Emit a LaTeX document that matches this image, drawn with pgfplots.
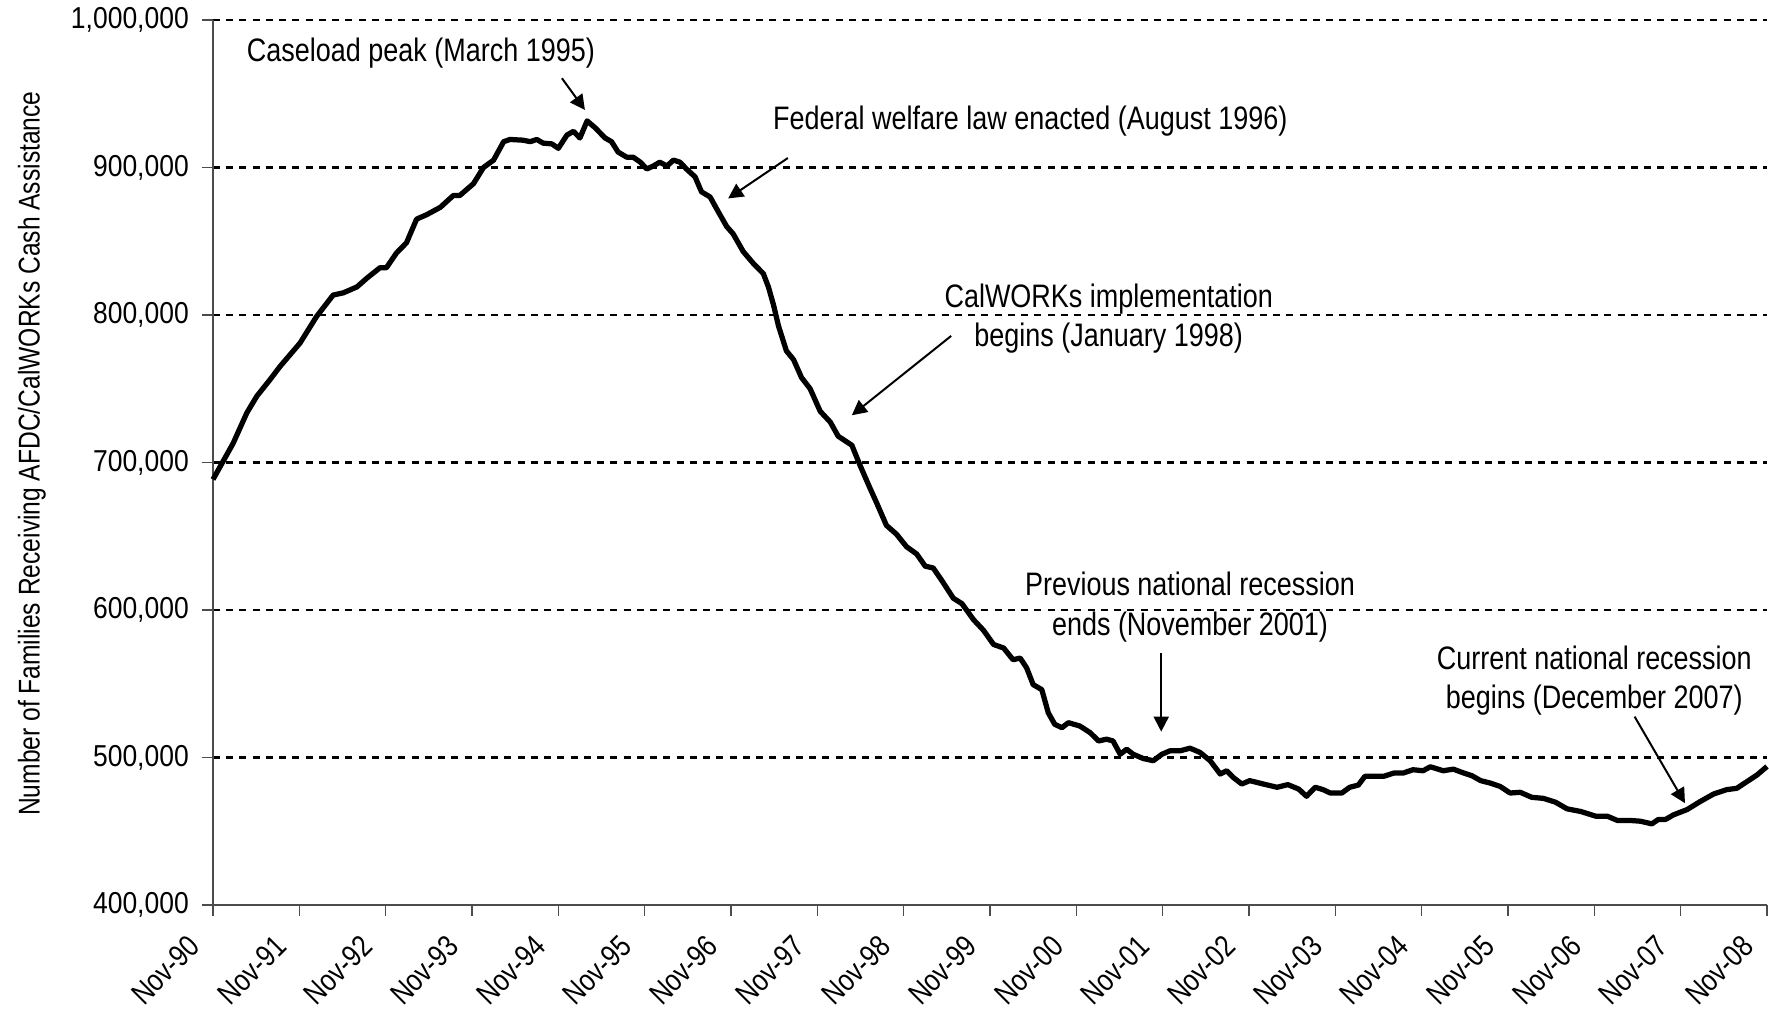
\documentclass[border=0pt]{standalone}
\usepackage{fontspec}
\setmainfont{Liberation Sans}[FakeStretch=0.83]
\newfontfamily\tickfont{Liberation Sans}[FakeStretch=0.875]
\newfontfamily\labfont{Liberation Sans}[FakeStretch=0.82]
\usepackage{pgfplots}
\pgfplotsset{compat=1.18}
\usetikzlibrary{arrows.meta}
\begin{document}
\begin{tikzpicture}
\path[use as bounding box] (-85.2pt,-46.4pt) rectangle (622.4pt,362pt);
\begin{axis}[
  scale only axis, width=621.6pt, height=354pt,
  xmin=0, xmax=216, ymin=400000, ymax=1000000,
  axis x line*=bottom, axis y line*=left,
  axis line style={gray!60!black, line width=0.6pt},
  tick style={gray!60!black, line width=0.6pt},
  tick align=outside, major tick length=4.5pt,
  xtick={0,12,...,216},
  xticklabels={Nov-90,Nov-91,Nov-92,Nov-93,Nov-94,Nov-95,Nov-96,Nov-97,Nov-98,Nov-99,Nov-00,Nov-01,Nov-02,Nov-03,Nov-04,Nov-05,Nov-06,Nov-07,Nov-08},
  ytick={500000,600000,700000,800000,900000,1000000},
  extra y ticks={400000}, extra y tick style={grid=none},
  ymajorgrids,
  major grid style={black, line width=0.9pt, dash pattern=on 2.8pt off 2.5pt},
  scaled y ticks=false,
  /pgf/number format/.cd, fixed, 1000 sep={,}, assume math mode=true,
  /pgfplots/.cd,
  xticklabel style={font=\fontsize{12.2}{14}\selectfont, rotate=45, anchor=north east, inner sep=1pt, xshift=-11.1pt, yshift=3.8pt},
  yticklabel style={font=\tickfont\fontsize{12.1}{14}\selectfont, inner sep=2pt, xshift=-3pt},
  ylabel={Number of Families Receiving AFDC/CalWORKs Cash Assistance},
  ylabel style={font=\labfont\fontsize{12}{14}\selectfont, at={(axis description cs:-0.1165,0.51)}, anchor=center},
  clip=false,
]
\addplot[black, line width=2.1pt, line join=round] coordinates {
(0,688500) (2.8,713000) (4.7,733600) (6.1,745000) (7.9,756000) (9.3,765000)
(12.1,781000) (14.4,799000) (16.7,813500) (18.1,815000) (20,819000) (21.4,825000)
(23.2,832000) (24.1,832000) (25.5,842000) (26.9,849000) (28.3,865000) (29.7,868000)
(31.6,873000) (33.4,881000) (34.3,881000) (36.2,889000) (37.6,900000) (39,905000)
(40.4,917500) (41.3,919000) (43.1,918500) (44.1,917500) (45,919000) (45.9,916500)
(47.1,916000) (48,913000) (49.2,922000) (50.1,924500) (51,920000) (52,931600)
(53.1,927000) (54.5,920000) (55.4,917500) (56.3,910500) (57.5,907000) (58.4,907000)
(59.4,903600) (60.3,899000) (61.2,901000) (62.1,903600) (63.1,901000) (64,905000)
(64.9,903600) (65.8,899000) (67,893700) (67.9,883500) (69.1,880000) (70,872000)
(71.4,860000) (72.3,855000) (73.7,843000) (75.1,835000) (76.5,828000) (77.2,819000)
(77.9,807000) (78.6,792600) (79.7,775700) (80.7,769700) (81.8,757600) (83,750000)
(84.4,734700) (85.8,727400) (86.9,717800) (88.8,711700) (89.9,698500) (91.3,682800)
(92.2,673100) (93.6,657400) (95,651400) (96.4,642900) (97.8,638000) (99,629700)
(100.1,628500) (101.3,620000) (102.9,608000) (104.1,604300) (105.7,593500) (107.1,586200)
(108.5,576600) (109.9,574200) (111.2,566300) (112.2,567400) (113.1,560700) (114,549400)
(115.2,546000) (116.1,530300) (117,522500) (118,520200) (118.9,523600) (120.5,521300)
(121.9,516900) (123.1,511200) (124.2,512400) (125.1,511200) (126.1,502200) (127,505600)
(127.9,502200) (129.3,499300) (130.7,497800) (131.9,502200) (133,504500) (134.4,504500)
(135.8,506300) (137.2,503400) (138.6,497800) (140,488800) (140.9,491000) (141.8,486500)
(143,482000) (144.1,484300) (146,482000) (147.9,479800) (149.4,481600) (150.9,478600)
(152,473700) (153.2,479800) (154.3,478200) (155.3,475900) (156.9,475900) (158,479800)
(159.2,481300) (160.1,487200) (161.3,487200) (162.7,487200) (164.1,489400) (165.4,489400)
(166.8,491700) (168.2,491000) (169.2,493700) (171,491000) (172.4,492100) (173.6,489900)
(175,487600) (176.2,484300) (177.5,482700) (178.9,480400) (180.3,475900) (181.7,476400)
(183.3,473000) (184.9,472300) (186.6,469700) (188.2,465200) (190.1,463400) (192.2,460200)
(193.8,460200) (195.2,457300) (197,457300) (198.4,456800) (200,455000) (200.9,458000)
(201.9,458000) (203,461100) (204.9,464700) (206.7,470100) (208.6,475300) (210.4,478200)
(211.8,479100) (213.2,483600) (214.6,488100) (216,493900)
};
\tikzset{ann/.style={font=\fontsize{13}{15.8}\selectfont, align=center, inner sep=0pt},
         arr/.style={line width=0.8pt, -{Triangle[length=6pt,width=6pt]}}}
\node[ann] at (axis cs:28.9,977600) {Caseload peak (March 1995)};
\draw[arr] (axis cs:48.5,960500) -- (axis cs:51.7,939000);
\node[ann] at (axis cs:113.6,931700) {Federal welfare law enacted (August 1996)};
\draw[arr] (axis cs:79.9,906400) -- (axis cs:71.6,879000);
\node[ann] at (axis cs:124.5,797600) {CalWORKs implementation\\begins (January 1998)};
\draw[arr] (axis cs:102.6,785800) -- (axis cs:88.8,732000);
\node[ann] at (axis cs:135.8,602000) {Previous national recession\\ends (November 2001)};
\draw[arr] (axis cs:131.8,570600) -- (axis cs:131.8,517500);
\node[ann] at (axis cs:192,552000) {Current national recession\\begins (December 2007)};
\draw[arr] (axis cs:197.6,527700) -- (axis cs:204.6,469000);
\end{axis}
\end{tikzpicture}
\end{document}
